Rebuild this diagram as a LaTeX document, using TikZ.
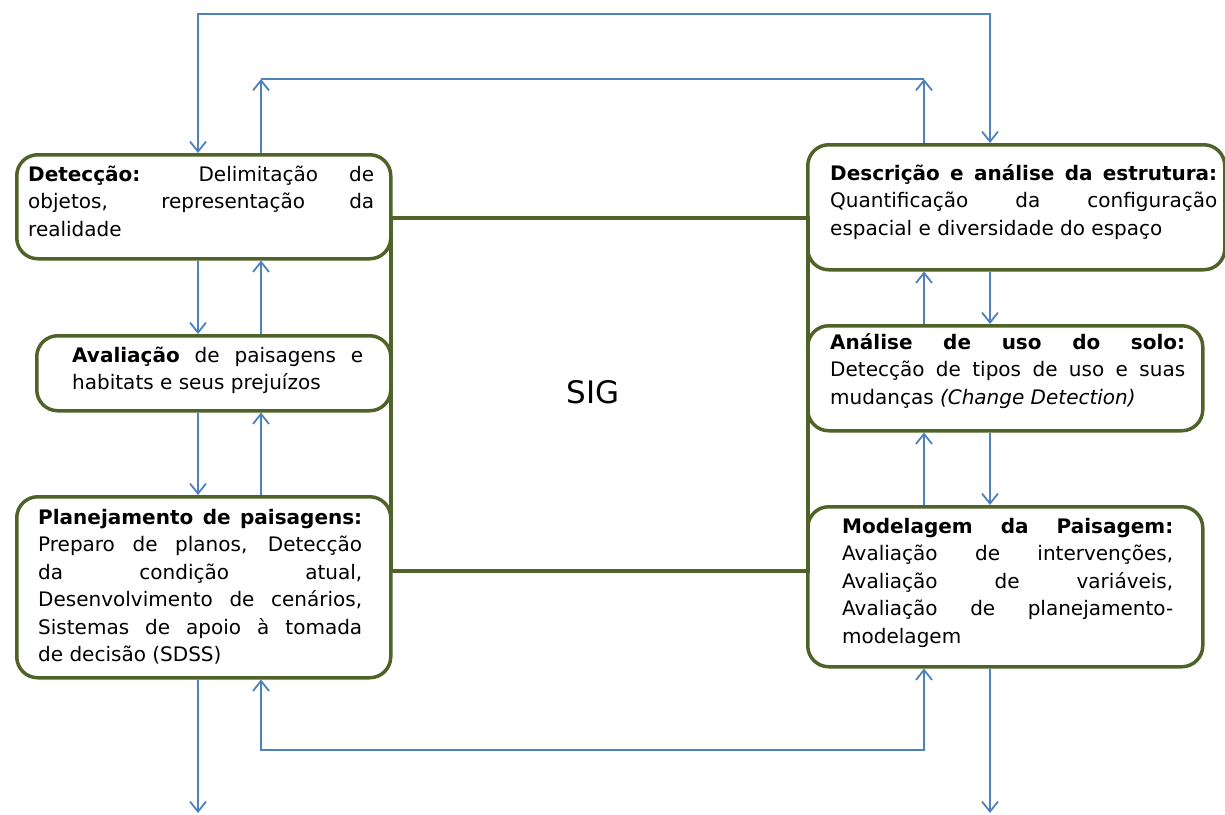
\documentclass[tikz,border=0pt]{standalone}
\usepackage{fontspec}
\setmainfont{DejaVu Sans}
\usetikzlibrary{arrows.meta}
\definecolor{olivebox}{RGB}{79,98,40}
\definecolor{blueconn}{RGB}{79,129,189}
\newcommand\jline[1]{\makebox[\linewidth][s]{#1}\par}
\newcommand\fline[1]{#1\par}
\newcommand\boxtext[2]{\parbox[t]{#1}{\fontsize{20pt}{27.5pt}\selectfont #2}}
\begin{document}
\begin{tikzpicture}[x=1pt,y=-1pt,
  gbox/.style={draw=olivebox, line width=3.5pt, rounded corners=21pt, inner sep=0pt, anchor=north west},
  sigbox/.style={draw=olivebox, line width=3.5pt, inner sep=0pt, anchor=north west},
  txt/.style={inner sep=0pt, anchor=base west, text=black},
  conn/.style={draw=blueconn, line width=1.8pt},
  >={Straight Barb[length=10pt,width=16pt]}]
\useasboundingbox (0,0) rectangle (1225,814);

% columns and levels for connectors
\coordinate (cA) at (198,0);
\coordinate (cB) at (261,0);
\coordinate (cC) at (924,0);
\coordinate (cD) at (990,0);
\coordinate (tO) at (0,14);
\coordinate (tI) at (0,79);
\coordinate (bI) at (0,750);
\coordinate (bO) at (0,813);

% central SIG rectangle
\node[sigbox, minimum width=417pt, minimum height=353pt] (sig) at (389,216) {};
\node[font=\fontsize{31pt}{36pt}\selectfont, inner sep=0pt] (sigT) at (593,392) {SIG};

% left boxes
\node[gbox, minimum width=374pt, minimum height=104pt] (det)  at (15,153) {};
\node[gbox, minimum width=354pt, minimum height=75pt]  (aval) at (35,334) {};
\node[gbox, minimum width=374pt, minimum height=181pt] (plan) at (15,495) {};
% right boxes
\node[gbox, minimum width=417pt, minimum height=125pt] (desc) at (806,143) {};
\node[gbox, minimum width=395pt, minimum height=105pt] (anal) at (806,324) {};
\node[gbox, minimum width=395pt, minimum height=160pt] (mod)  at (806,505) {};

% texts
\node[txt] (detT) at (28,181) {\boxtext{346pt}{%
  \jline{\textbf{Detecção:} Delimitação de}
  \jline{objetos, representação da}
  \fline{realidade}}};
\node[txt] (avalT) at (72,362) {\boxtext{291pt}{%
  \jline{\textbf{Avaliação} de paisagens e}
  \fline{habitats e seus prejuízos}}};
\node[txt] (planT) at (38,524) {\boxtext{324pt}{%
  \jline{\textbf{Planejamento de paisagens:}}
  \jline{Preparo de planos, Detecção}
  \jline{da condição atual,}
  \jline{Desenvolvimento de cenários,}
  \jline{Sistemas de apoio à tomada}
  \fline{de decisão (SDSS)}}};
\node[txt] (descT) at (830,180) {\boxtext{387pt}{%
  \jline{\textbf{Descrição e análise da estrutura:}}
  \jline{Quantificação da configuração}
  \fline{espacial e diversidade do espaço}}};
\node[txt] (analT) at (830,349) {\boxtext{355pt}{%
  \jline{\textbf{Análise de uso do solo:}}
  \jline{Detecção de tipos de uso e suas}
  \fline{mudanças \textit{(Change Detection)}}}};
\node[txt] (modT) at (842,533) {\boxtext{331pt}{%
  \jline{\textbf{Modelagem da Paisagem:}}
  \jline{Avaliação de intervenções,}
  \jline{Avaliação de variáveis,}
  \jline{Avaliação de planejamento-}
  \fline{modelagem}}};

% vertical connectors between left boxes
\draw[conn,->] (det.south -| cA) -- (aval.north -| cA);
\draw[conn,->] (aval.north -| cB) -- (det.south -| cB);
\draw[conn,->] (aval.south -| cA) -- (plan.north -| cA);
\draw[conn,->] (plan.north -| cB) -- (aval.south -| cB);
% vertical connectors between right boxes
\draw[conn,->] (anal.north -| cC) -- (desc.south -| cC);
\draw[conn,->] (desc.south -| cD) -- (anal.north -| cD);
\draw[conn,->] (mod.north -| cC) -- (anal.south -| cC);
\draw[conn,->] (anal.south -| cD) -- (mod.north -| cD);

% outer top loop
\draw[conn,<->] (det.north -| cA) -- (cA |- tO) -- (cD |- tO) -- (desc.north -| cD);
% inner top loop
\draw[conn,->] (det.north -| cB) -- (cB |- tI);
\draw[conn,->] (desc.north -| cC) -- (cC |- tI);
\draw[conn] (cB |- tI) -- (cC |- tI);
% bottom loop
\draw[conn,<->] (plan.south -| cB) -- (cB |- bI) -- (cC |- bI) -- (mod.south -| cC);
% outgoing arrows
\draw[conn,->] (plan.south -| cA) -- (cA |- bO);
\draw[conn,->] (mod.south -| cD) -- (cD |- bO);
\end{tikzpicture}
\end{document}
